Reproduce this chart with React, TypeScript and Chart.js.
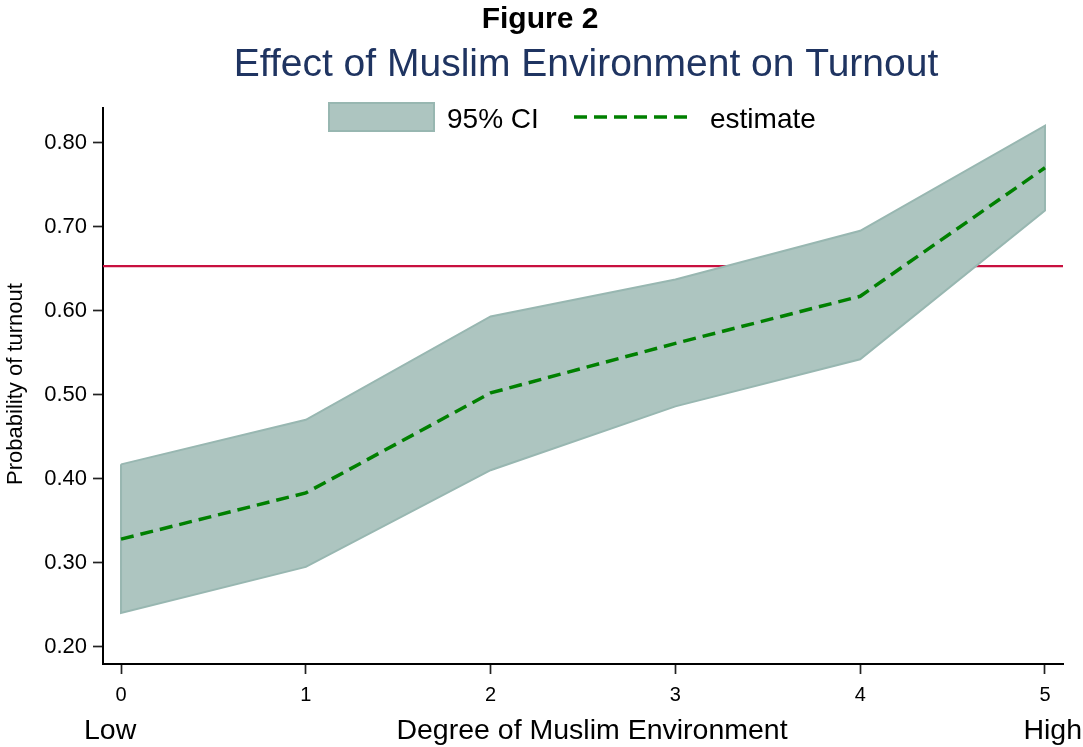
import React, { useEffect, useRef } from 'react';
import { Chart, registerables } from 'chart.js';

Chart.register(...registerables);

// ---- data ----
const categories = [0, 1, 2, 3, 4, 5];
const upperCI = [0.417, 0.470, 0.593, 0.637, 0.695, 0.820];
const lowerCI = [0.240, 0.295, 0.410, 0.486, 0.542, 0.719];
const estimate = [0.328, 0.383, 0.502, 0.561, 0.617, 0.770];
const referenceValue = [0.653];
const yTickValues = [0.2, 0.3, 0.4, 0.5, 0.6, 0.7, 0.8];
const xTickValues = [0, 1, 2, 3, 4, 5];
const legendLabels = ['95% CI', 'estimate'];
const titleText = 'Figure 2';
const subtitleText = 'Effect of Muslim Environment on Turnout';
const xTitleText = 'Degree of Muslim Environment';
const xEndLabels = ['Low', 'High'];
const yTitleText = 'Probability of turnout';

// ---- styles ----
const FONT = '"Liberation Sans", Arial, Helvetica, sans-serif';
const BAND_FILL = '#adc5c0';
const BAND_BORDER = '#98b7b1';
const EST_COLOR = '#008000';
const REF_COLOR = '#c8103f';
const NAVY = '#1f3461';
const X_MIN = -0.0975;
const X_MAX = 5.0975;
const Y_MIN = 0.1794;
const Y_MAX = 0.8411;

const bandPoints = [
  ...categories.map((c, i) => ({ x: c, y: upperCI[i] })),
  ...categories.slice().reverse().map((c) => ({ x: c, y: lowerCI[categories.indexOf(c)] })),
  { x: categories[0], y: upperCI[0] },
];

const textPlugin = {
  id: 'customTexts',
  afterDraw(chart: any) {
    const ctx = chart.ctx as CanvasRenderingContext2D;
    ctx.save();
    ctx.textBaseline = 'alphabetic';
    // titles
    ctx.fillStyle = '#000';
    ctx.font = `bold 30px ${FONT}`;
    ctx.textAlign = 'center';
    ctx.fillText(titleText, 540, 28);
    ctx.fillStyle = NAVY;
    ctx.font = `39px ${FONT}`;
    ctx.fillText(subtitleText, 586, 76);
    // x axis titles
    ctx.fillStyle = '#000';
    ctx.font = `28.5px ${FONT}`;
    ctx.textAlign = 'center';
    ctx.fillText(xTitleText, 592, 739);
    ctx.textAlign = 'left';
    ctx.fillText(xEndLabels[0], 84, 739);
    ctx.textAlign = 'right';
    ctx.fillText(xEndLabels[1], 1082, 739);
    // y title
    ctx.save();
    ctx.translate(22, 384);
    ctx.rotate(-Math.PI / 2);
    ctx.textAlign = 'center';
    ctx.font = `22px ${FONT}`;
    ctx.fillText(yTitleText, 0, 0);
    ctx.restore();
    // legend
    ctx.fillStyle = BAND_FILL;
    ctx.strokeStyle = BAND_BORDER;
    ctx.lineWidth = 2;
    ctx.fillRect(329, 103, 105, 28);
    ctx.strokeRect(329, 103, 105, 28);
    ctx.fillStyle = '#000';
    ctx.font = `28px ${FONT}`;
    ctx.textAlign = 'left';
    ctx.fillText(legendLabels[0], 447, 128);
    ctx.fillText(legendLabels[1], 710, 128);
    ctx.strokeStyle = EST_COLOR;
    ctx.lineWidth = 3.5;
    ctx.setLineDash([13, 7]);
    ctx.beginPath();
    ctx.moveTo(574, 117);
    ctx.lineTo(694, 117);
    ctx.stroke();
    ctx.restore();
  },
};

export default function App() {
  const ref = useRef<HTMLCanvasElement>(null);
  useEffect(() => {
    if (!ref.current) return;
    const chart = new Chart(ref.current, {
      type: 'line',
      data: {
        datasets: [
          {
            label: legendLabels[1],
            data: categories.map((c, i) => ({ x: c, y: estimate[i] })),
            borderColor: EST_COLOR,
            borderWidth: 3.5,
            borderDash: [13, 7],
            pointRadius: 0,
            fill: false,
            tension: 0,
          },
          {
            label: legendLabels[0],
            data: bandPoints,
            borderColor: BAND_BORDER,
            backgroundColor: BAND_FILL,
            borderWidth: 2,
            pointRadius: 0,
            fill: 'shape',
            tension: 0,
            borderJoinStyle: 'miter',
          },
          {
            label: 'reference',
            data: [
              { x: X_MIN, y: referenceValue[0] },
              { x: X_MAX, y: referenceValue[0] },
            ],
            borderColor: REF_COLOR,
            borderWidth: 2.2,
            pointRadius: 0,
            fill: false,
          },
        ],
      },
      options: {
        animation: false,
        responsive: false,
        maintainAspectRatio: false,
        layout: { padding: { top: 108, right: 20, left: 0, bottom: 0 } },
        plugins: {
          legend: { display: false },
          tooltip: { enabled: false },
          title: { display: false },
        },
        scales: {
          x: {
            type: 'linear',
            min: X_MIN,
            max: X_MAX,
            afterBuildTicks: (s: any) => {
              s.ticks = xTickValues.map((v) => ({ value: v }));
            },
            afterFit: (s: any) => {
              s.height = 83;
            },
            ticks: {
              color: '#000',
              font: { family: FONT, size: 20 },
              padding: 9,
              callback: (v: any) => String(v),
              maxRotation: 0,
            },
            grid: {
              drawOnChartArea: false,
              drawTicks: true,
              tickLength: 10,
              tickColor: '#222',
              tickWidth: 1.7,
            },
            border: { color: '#000', width: 2 },
          },
          y: {
            type: 'linear',
            min: Y_MIN,
            max: Y_MAX,
            afterBuildTicks: (s: any) => {
              s.ticks = yTickValues.map((v) => ({ value: v }));
            },
            afterFit: (s: any) => {
              s.width = 103;
            },
            ticks: {
              color: '#000',
              font: { family: FONT, size: 22 },
              padding: 6,
              callback: (v: any) => Number(v).toFixed(2),
            },
            grid: {
              drawOnChartArea: false,
              drawTicks: true,
              tickLength: 10,
              tickColor: '#222',
              tickWidth: 1.7,
            },
            border: { color: '#000', width: 2 },
          },
        },
      },
      plugins: [textPlugin],
    } as any);
    return () => chart.destroy();
  }, []);
  return (
    <div style={{ position: 'absolute', left: 0, top: 0, width: 1083, height: 747, background: '#fff' }}>
      <canvas ref={ref} width={1083} height={747} style={{ display: 'block' }} />
    </div>
  );
}
